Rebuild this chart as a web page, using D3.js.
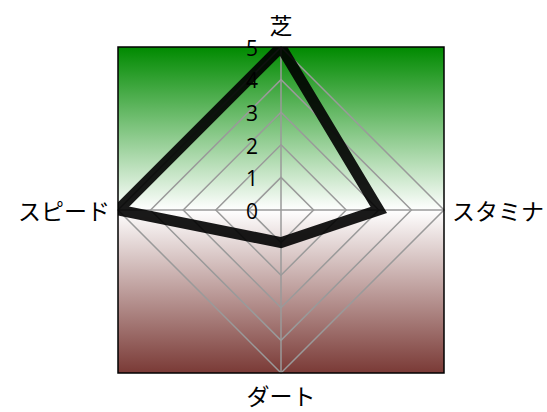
<!DOCTYPE html>
<html>
<head>
<meta charset="utf-8">
<script src="https://cdn.jsdelivr.net/npm/d3@7"></script>
<style>
  body { margin: 0; background: #fff; }
</style>
</head>
<body>
<div id="chart"></div>
<script>
const axes = ['芝', 'スタミナ', 'ダート', 'スピード']
const values = [5, 3, 1, 5]
const levels = [0, 1, 2, 3, 4, 5]

const width = 547
const height = 412
const cx = 281
const cy = 210

const svg = d3.select('#chart')
    .append('svg')
    .attr('width', width)
    .attr('height', height)

const r = d3.scaleLinear().domain([0, 5]).range([0, 163])
const angle = d3.scaleLinear().domain([0, axes.length]).range([0, 2 * Math.PI])

const pt = (i, v) => [cx + r(v) * Math.sin(angle(i)), cy - r(v) * Math.cos(angle(i))]

const defs = svg.append('defs')
const grad = defs.append('linearGradient')
    .attr('id', 'bg')
    .attr('x1', 0).attr('y1', 0).attr('x2', 0).attr('y2', 1)
grad.append('stop').attr('offset', '0%').attr('stop-color', '#008a00')
grad.append('stop').attr('offset', '50%').attr('stop-color', '#ffffff')
grad.append('stop').attr('offset', '100%').attr('stop-color', '#7a3a36')

const R = r(5)
defs.append('clipPath').attr('id', 'box')
    .append('rect')
    .attr('x', cx - R).attr('y', cy - R)
    .attr('width', 2 * R).attr('height', 2 * R)

svg.append('rect')
    .attr('x', cx - R).attr('y', cy - R)
    .attr('width', 2 * R).attr('height', 2 * R)
    .attr('fill', 'url(#bg)')

// grid diamonds
svg.selectAll('.level')
    .data(levels.slice(1))
    .join('polygon')
    .attr('points', d => axes.map((a, i) => pt(i, d).join(',')).join(' '))
    .attr('fill', 'none')
    .attr('stroke', '#9a9a9a')
    .attr('stroke-width', 1.5)

svg.selectAll('.spoke')
    .data(axes)
    .join('line')
    .attr('x1', cx).attr('y1', cy)
    .attr('x2', (d, i) => pt(i, 5)[0])
    .attr('y2', (d, i) => pt(i, 5)[1])
    .attr('stroke', '#9a9a9a')
    .attr('stroke-width', 1.5)

// data polygon
svg.append('g')
    .attr('clip-path', 'url(#box)')
    .append('polygon')
    .attr('points', values.map((v, i) => pt(i, v).join(',')).join(' '))
    .attr('fill', 'none')
    .attr('stroke', '#000')
    .attr('stroke-opacity', 0.9)
    .attr('stroke-width', 11)

svg.append('rect')
    .attr('x', cx - R).attr('y', cy - R)
    .attr('width', 2 * R).attr('height', 2 * R)
    .attr('fill', 'none')
    .attr('stroke', '#000')
    .attr('stroke-width', 1.5)

// tick labels
svg.selectAll('.tick')
    .data(levels)
    .join('text')
    .attr('x', cx - 23)
    .attr('y', d => cy - r(d))
    .attr('dy', '0.42em')
    .attr('text-anchor', 'end')
    .style('font-family', '"Open Sans", sans-serif')
    .style('font-size', '21px')
    .attr('fill', '#000')
    .text(d => d)

// axis labels
const labelPos = [
    { x: cx, y: cy - R - 23, anchor: 'middle' },
    { x: cx + R + 8, y: cy, anchor: 'start' },
    { x: cx, y: cy + R + 22, anchor: 'middle' },
    { x: cx - R - 8, y: cy, anchor: 'end' }
]
svg.selectAll('.axis-label')
    .data(axes)
    .join('text')
    .attr('x', (d, i) => labelPos[i].x)
    .attr('y', (d, i) => labelPos[i].y)
    .attr('text-anchor', (d, i) => labelPos[i].anchor)
    .attr('dominant-baseline', 'central')
    .style('font-family', '"Noto Sans CJK JP", sans-serif')
    .style('font-size', '23px')
    .attr('fill', '#000')
    .text(d => d)
</script>
</body>
</html>
